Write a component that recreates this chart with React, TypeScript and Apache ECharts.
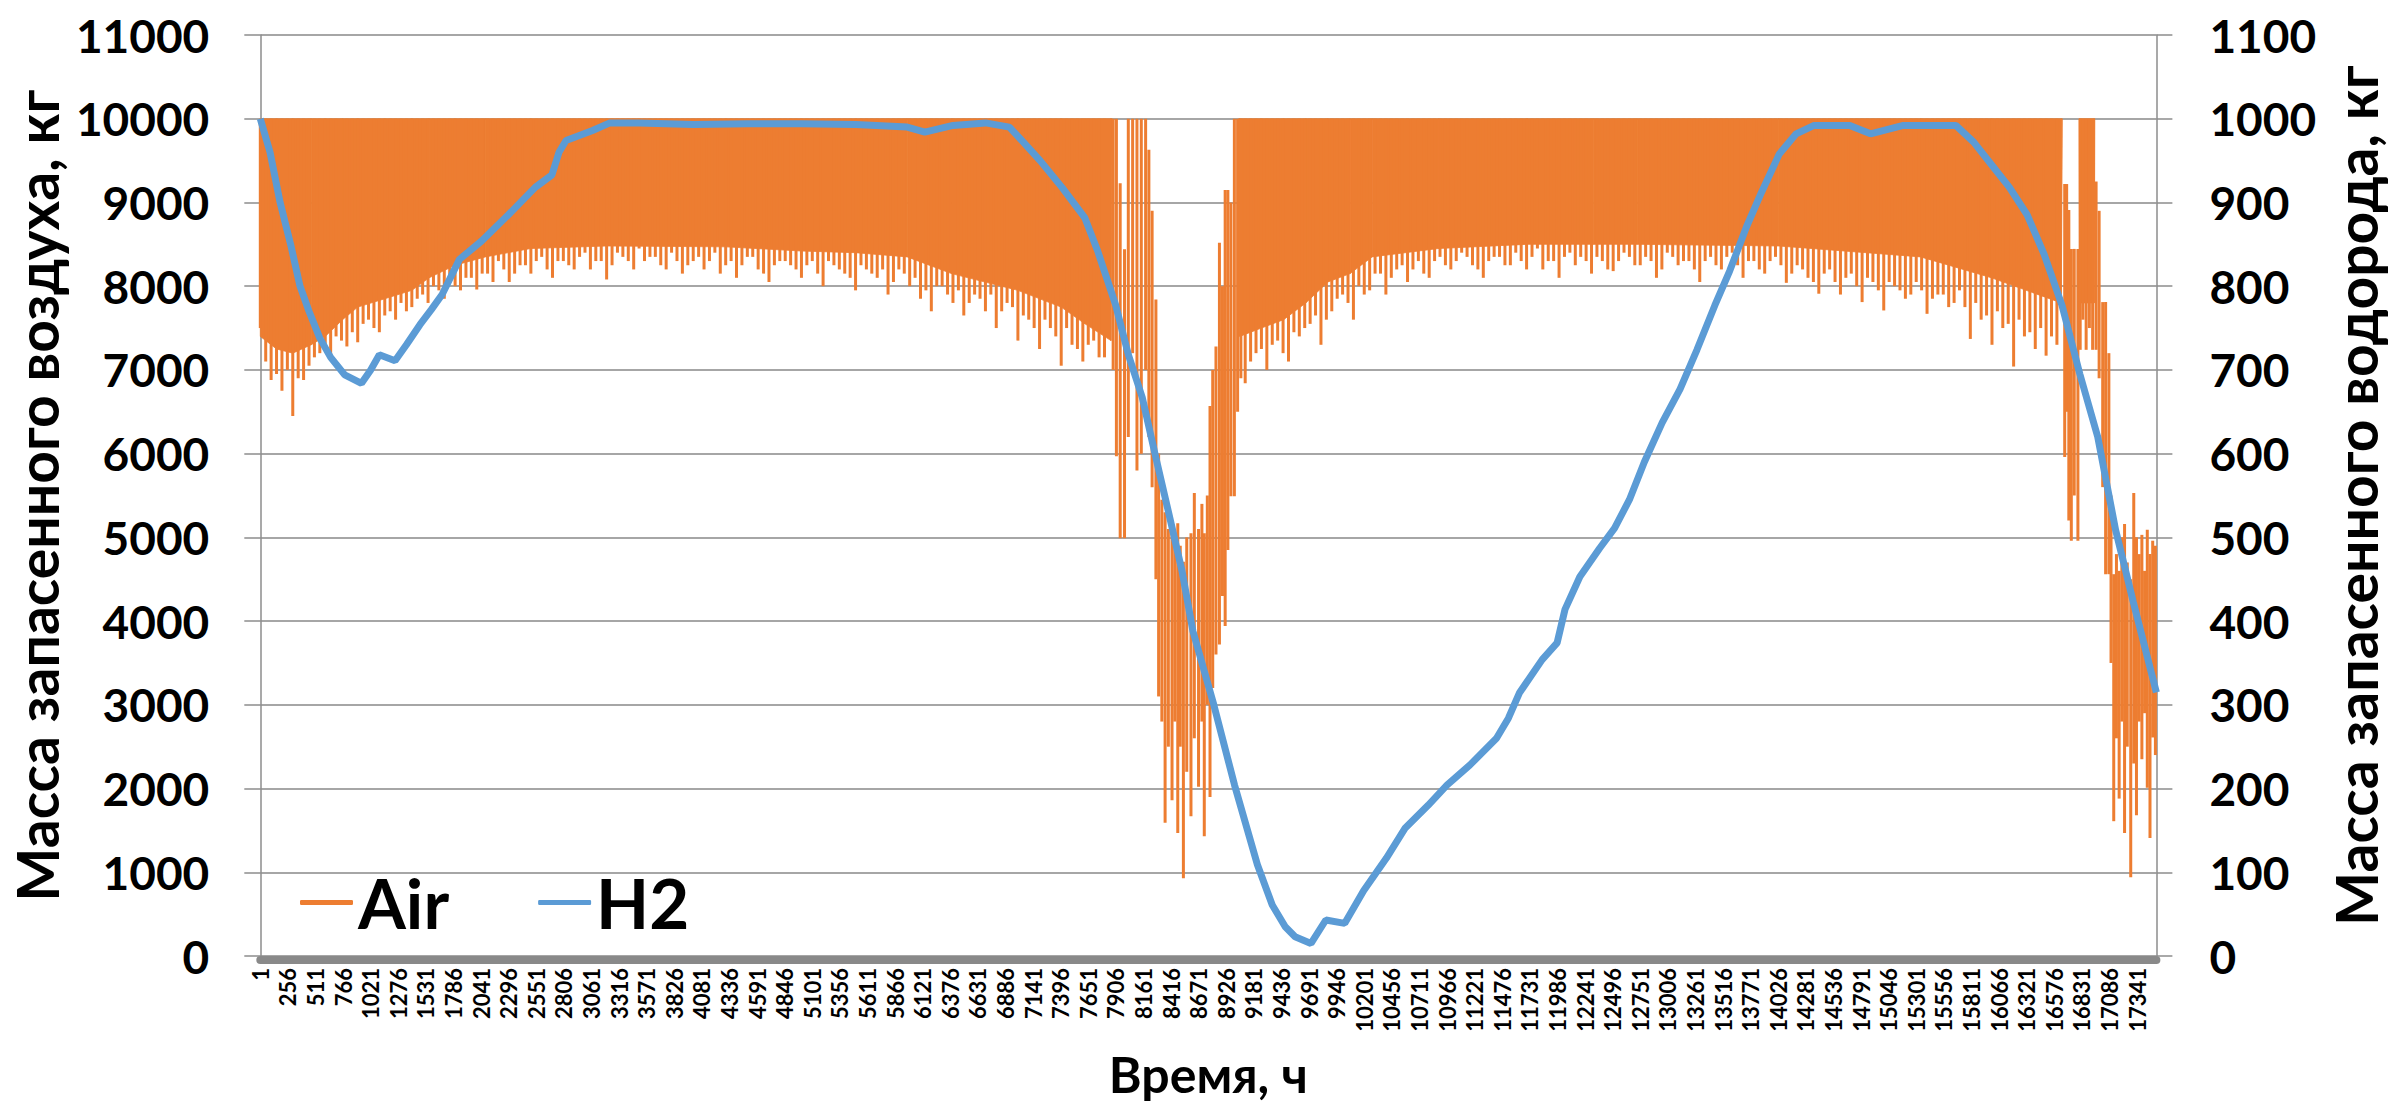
import { useEffect, useRef } from 'react';
import * as echarts from 'echarts';

const X_MAX = 17519;
const X_STEP = 255;
const AIR_MAX = 10000;
const ORANGE = '#ED7D31';
const BLUE = '#5B9BD5';
const FONT = 'Lato, "Open Sans", sans-serif';

// H2 stored mass (right axis), hour index -> kg
const h2Hours = [0, 90, 183, 280, 367, 450, 550, 650, 780, 935, 1020, 1100, 1245, 1350, 1475, 1580, 1680, 1840, 2045, 2290, 2540, 2695, 2760, 2825, 3070, 3230, 3500, 4000, 4500, 5000, 5500, 5977, 6140, 6400, 6700, 6921, 7050, 7205, 7407, 7617, 7737, 7902, 8021, 8149, 8268, 8388, 8516, 8617, 8810, 9002, 9213, 9350, 9470, 9561, 9708, 9845, 10020, 10194, 10405, 10579, 10790, 10964, 11175, 11422, 11532, 11633, 11844, 11982, 12055, 12192, 12375, 12513, 12650, 12788, 12953, 13118, 13274, 13439, 13576, 13732, 13870, 14035, 14191, 14356, 14686, 14878, 15180, 15666, 15831, 15996, 16161, 16326, 16482, 16647, 16812, 16977, 17142, 17307, 17519];
const h2Values = [1000, 960, 900, 850, 800, 770, 738, 715, 694, 684, 700, 718, 711, 730, 754, 772, 790, 832, 854, 885, 918, 933, 960, 974, 986, 995, 995, 993, 994, 994, 993, 990, 984, 992, 995, 990, 972, 950, 918, 882, 842, 778, 718, 667, 599, 532, 460, 388, 300, 204, 109, 61, 35, 23, 15, 43, 39, 78, 117, 153, 180, 204, 228, 260, 284, 314, 354, 374, 414, 453, 487, 511, 545, 590, 637, 677, 724, 777, 818, 871, 912, 958, 982, 992, 992, 982, 992, 992, 972, 945, 918, 885, 838, 777, 695, 620, 509, 422, 315];

// Air: solid core of the daily oscillation (lower edge; upper edge is AIR_MAX)
const coreHours = [0, 150, 300, 470, 600, 760, 900, 1150, 1400, 1560, 1800, 2080, 2500, 3200, 4300, 5000, 5500, 5977, 6387, 7000, 7400, 7620, 7860, 7870, 9040, 9050, 9250, 9455, 9660, 9864, 10069, 10273, 10887, 11706, 12320, 12721, 14031, 15340, 15995, 16640, 16650, 16805, 16810, 16945, 16950, 17519];
const coreLow = [7400, 7250, 7200, 7300, 7400, 7600, 7750, 7850, 7950, 8100, 8250, 8350, 8450, 8480, 8470, 8420, 8400, 8350, 8150, 7950, 7750, 7550, 7350, 10000, 10000, 7400, 7500, 7600, 7800, 8050, 8150, 8350, 8450, 8500, 8500, 8500, 8480, 8350, 8100, 7800, 10000, 10000, 7800, 7800, 10000, 10000];

// Air: spike minima every 100 h, top at AIR_MAX
const SPIKE_STEP = 100;
const spikeStartA = 0;
const spikeLowA = [7500, 6880, 6750, 6450, 6880, 7150, 7300, 7400, 7280, 7330, 7600, 7450, 7700, 7800, 7750, 7900, 8000, 7850, 8000, 8100, 7960, 8150, 8300, 8050, 8250, 8150, 8350, 8100, 8300, 8200, 8400, 8300, 8080, 8400, 8300, 8450, 8350, 8250, 8400, 8150, 8300, 8200, 8400, 8250, 8100, 8350, 8200, 8050, 8300, 8250, 8100, 8300, 8000, 8250, 8150, 7950, 8200, 8100, 7900, 8200, 8000, 7850, 7700, 8000, 7800, 7650, 7900, 7700, 7500, 7800, 7350, 7600, 7250, 7500, 7050, 7300, 7100, 7350, 7150];
const spikeStartA2 = 50;
const spikeLowA2 = [7100, 6950, 7000, 6900, 7050, 7200, 7150, 7350, 7450, 7550, 7500, 7650, 7600, 7700, 7850, 7800, 7950, 8050, 7950, 8100, 8150, 8050, 8200, 8150, 8250, 8300, 8200, 8300, 8250, 8350, 8200, 8300, 8250, 8350, 8200, 8300, 8350, 8200, 8300, 8250, 8350, 8300, 8150, 8300, 8250, 8350, 8150, 8250, 8300, 8200, 8250, 8150, 8300, 8200, 8100, 8250, 8150, 8200, 8050, 8150, 8100, 7950, 8000, 7900, 7950, 7800, 7850, 7900, 7700, 7750, 7650, 7500, 7600, 7400, 7500, 7250, 7300, 7150];
const spikeStartB = 9100;
const spikeLowB = [6840, 7200, 7000, 7350, 7100, 7400, 7550, 7300, 7700, 7900, 7600, 7900, 8150, 7900, 8200, 8050, 8300, 8100, 8350, 8200, 8400, 8250, 8100, 8350, 8250, 8400, 8200, 8450, 8300, 8100, 8400, 8350, 8150, 8300, 8180, 8400, 8250, 8350, 8100, 8400, 8250, 8300, 8050, 8350, 8200, 8400, 8100, 8300, 8150, 8350, 8040, 8250, 8100, 7910, 8200, 7900, 8150, 7810, 8050, 7710, 8000, 7850, 8050, 7670, 7900, 7750, 7950, 7370, 7600, 7300, 7500, 7040, 7400, 7250, 7170, 7300];
const spikeStartB2 = 9150;
const spikeLowB2 = [7100, 7250, 7300, 7200, 7450, 7500, 7650, 7600, 7850, 7800, 8000, 7950, 8150, 8100, 8250, 8200, 8150, 8300, 8250, 8300, 8350, 8200, 8300, 8350, 8250, 8300, 8350, 8200, 8300, 8350, 8250, 8300, 8350, 8200, 8300, 8350, 8250, 8300, 8200, 8350, 8300, 8200, 8300, 8250, 8350, 8250, 8300, 8200, 8300, 8250, 8150, 8200, 8050, 8150, 8050, 8100, 8000, 8100, 7950, 8050, 7950, 7900, 7950, 7850, 7900, 7800, 7750, 7800, 7650, 7700, 7550, 7600, 7450, 7500, 7400];

// Air: first deep discharge (around hour 7900-9060)
const burstCHours = [7880, 7910, 7945, 7985, 8020, 8060, 8100, 8140, 8180, 8210, 8240, 8275, 8300, 8330, 8360, 8390, 8424, 8450, 8477, 8500, 8529, 8560, 8599, 8630, 8669, 8700, 8722, 8750, 8775, 8800, 8830, 8862, 8890, 8915, 8940, 8968, 9000, 9030, 9060];
const burstCLow = [7000, 5970, 4990, 4990, 6200, 7200, 5800, 6000, 7000, 6200, 5600, 4500, 3100, 2800, 1590, 2500, 1860, 2800, 1470, 2500, 930, 2200, 1670, 2600, 2020, 2800, 1430, 3000, 1900, 3200, 3600, 3720, 4300, 3940, 4850, 5490, 5490, 6500, 6900];
const burstCHigh = [10000, 10000, 9230, 8440, 10000, 10000, 10000, 10000, 10000, 9630, 8900, 7840, 6000, 5450, 5300, 5100, 5200, 5000, 5170, 4900, 4710, 5000, 5050, 5530, 5100, 5400, 5050, 5500, 6570, 7000, 7280, 8520, 8000, 9150, 9150, 9000, 10000, 10000, 10000];

// Air: second deep discharge (end of the period)
const burstDHours = [16672, 16690, 16710, 16733, 16760, 16794, 16815, 16840, 16870, 16900, 16930, 16962, 16990, 17023, 17050, 17080, 17100, 17125, 17150, 17175, 17200, 17225, 17250, 17282, 17310, 17335, 17360, 17385, 17410, 17435, 17460, 17485, 17510];
const burstDLow = [5960, 6500, 5200, 4960, 5500, 4960, 7240, 7600, 7240, 7500, 7240, 7240, 6900, 5600, 4560, 4560, 3500, 1610, 2600, 1880, 2800, 1470, 2500, 940, 2300, 1680, 2800, 2350, 2900, 2010, 1410, 2610, 2400];
const burstDHigh = [9220, 9220, 8910, 8445, 8445, 8445, 10000, 10000, 10000, 10000, 10000, 9250, 8900, 7810, 7810, 7200, 5500, 4560, 4800, 4600, 5000, 5160, 4700, 4500, 5530, 5000, 4800, 5030, 4600, 5090, 4800, 4960, 4900];

export default function App() {
  const ref = useRef<HTMLDivElement>(null);

  useEffect(() => {
    document.body.style.margin = '0';
    document.body.style.overflow = 'hidden';
    document.documentElement.style.overflow = 'hidden';
    const chart = echarts.init(ref.current!, null, { renderer: 'svg' });

    const regular = (start: number, lows: number[]) =>
      lows.map((lo, i) => [start + i * SPIKE_STEP, lo, AIR_MAX]);
    const spikes: number[][] = [
      ...regular(spikeStartA, spikeLowA),
      ...regular(spikeStartA2, spikeLowA2),
      ...burstCHours.map((h, i) => [h, burstCLow[i], burstCHigh[i]]),
      ...regular(spikeStartB, spikeLowB),
      ...regular(spikeStartB2, spikeLowB2),
      ...burstDHours.map((h, i) => [h, burstDLow[i], burstDHigh[i]]),
    ];

    const coreSegments: number[][] = [];
    for (let i = 0; i < coreHours.length - 1; i++) {
      coreSegments.push([coreHours[i], coreLow[i], coreHours[i + 1], coreLow[i + 1]]);
    }

    const labelStyle = { fontFamily: FONT, fontWeight: 'bold' as const, color: '#000' };
    const plain = (v: number) => String(v);

    chart.setOption({
      animation: false,
      backgroundColor: '#fff',
      grid: { left: 248, right: 233, top: 35, bottom: 147, containLabel: false },
      legend: {
        data: [
          { name: 'Air', icon: 'roundRect' },
          { name: 'H2', icon: 'roundRect' },
        ],
        left: 300,
        top: 868,
        padding: 0,
        itemWidth: 53,
        itemHeight: 5,
        itemGap: 89,
        textStyle: { ...labelStyle, fontSize: 69 },
      },
      xAxis: {
        type: 'value',
        min: 0,
        max: X_MAX,
        interval: X_STEP,
        offset: 4,
        axisLine: { show: true, onZero: false, lineStyle: { color: '#898989', width: 8 } },
        axisTick: { show: false },
        splitLine: { show: false },
        axisLabel: {
          ...labelStyle,
          rotate: 90,
          margin: 8,
          fontSize: 22,
          showMaxLabel: false,
          formatter: (v: number) => String(v + 1),
        },
        name: 'Время, ч',
        nameLocation: 'middle',
        nameGap: 88,
        nameTextStyle: { ...labelStyle, fontSize: 50, lineHeight: 52 },
      },
      yAxis: [
        {
          type: 'value',
          position: 'left',
          min: 0,
          max: 11000,
          interval: 1000,
          axisLine: { show: true, lineStyle: { color: '#8c8c8c', width: 1.5 } },
          axisTick: { show: true, length: 16, lineStyle: { color: '#8c8c8c', width: 1.5 } },
          splitLine: { show: true, lineStyle: { color: '#a6a6a6', width: 2 } },
          axisLabel: { ...labelStyle, margin: 51, fontSize: 46, formatter: plain },
          name: 'Масса запасенного воздуха, кг',
          nameLocation: 'middle',
          nameRotate: 90,
          nameGap: 150,
          nameTextStyle: { ...labelStyle, fontSize: 57 },
        },
        {
          type: 'value',
          position: 'right',
          min: 0,
          max: 1100,
          interval: 100,
          axisLine: { show: true, lineStyle: { color: '#8c8c8c', width: 1.5 } },
          axisTick: { show: true, length: 16, lineStyle: { color: '#8c8c8c', width: 1.5 } },
          splitLine: { show: false },
          axisLabel: { ...labelStyle, margin: 53, fontSize: 46, formatter: plain },
          name: 'Масса запасенного водорода, кг',
          nameLocation: 'middle',
          nameRotate: 90,
          nameGap: 118,
          nameTextStyle: { ...labelStyle, fontSize: 57 },
        },
      ],
      series: [
        {
          type: 'custom',
          name: 'airCore',
          xAxisIndex: 0,
          yAxisIndex: 0,
          data: coreSegments,
          encode: { x: [0, 2], y: [1, 3] },
          silent: true,
          z: 1,
          renderItem: (_params: any, api: any) => {
            const h0 = api.value(0), lo0 = api.value(1), h1 = api.value(2), lo1 = api.value(3);
            if (lo0 >= AIR_MAX && lo1 >= AIR_MAX) return null;
            const pts = [
              api.coord([h0, AIR_MAX]),
              api.coord([h1, AIR_MAX]),
              api.coord([h1, lo1]),
              api.coord([h0, lo0]),
            ];
            return {
              type: 'polygon',
              shape: { points: pts },
              style: { fill: ORANGE, stroke: ORANGE, lineWidth: 0.8 },
            };
          },
        },
        {
          type: 'custom',
          name: 'Air',
          xAxisIndex: 0,
          yAxisIndex: 0,
          data: spikes,
          encode: { x: 0, y: [1, 2] },
          itemStyle: { color: ORANGE },
          silent: true,
          z: 2,
          renderItem: (_params: any, api: any) => {
            const p1 = api.coord([api.value(0), api.value(1)]);
            const p2 = api.coord([api.value(0), api.value(2)]);
            return {
              type: 'line',
              shape: { x1: p1[0], y1: p1[1], x2: p2[0], y2: p2[1] },
              style: { stroke: ORANGE, lineWidth: 3 },
            };
          },
        },
        {
          type: 'line',
          name: 'H2',
          xAxisIndex: 0,
          yAxisIndex: 1,
          data: h2Hours.map((h, i) => [h, h2Values[i]]),
          symbol: 'none',
          lineStyle: { color: BLUE, width: 7 },
          itemStyle: { color: BLUE },
          z: 5,
        },
      ],
    });

    return () => chart.dispose();
  }, []);

  return (
    <div
      ref={ref}
      style={{
        position: 'absolute',
        left: 0,
        top: 0,
        width: 2392,
        height: 1105,
        overflow: 'hidden',
        background: '#fff',
      }}
    />
  );
}
